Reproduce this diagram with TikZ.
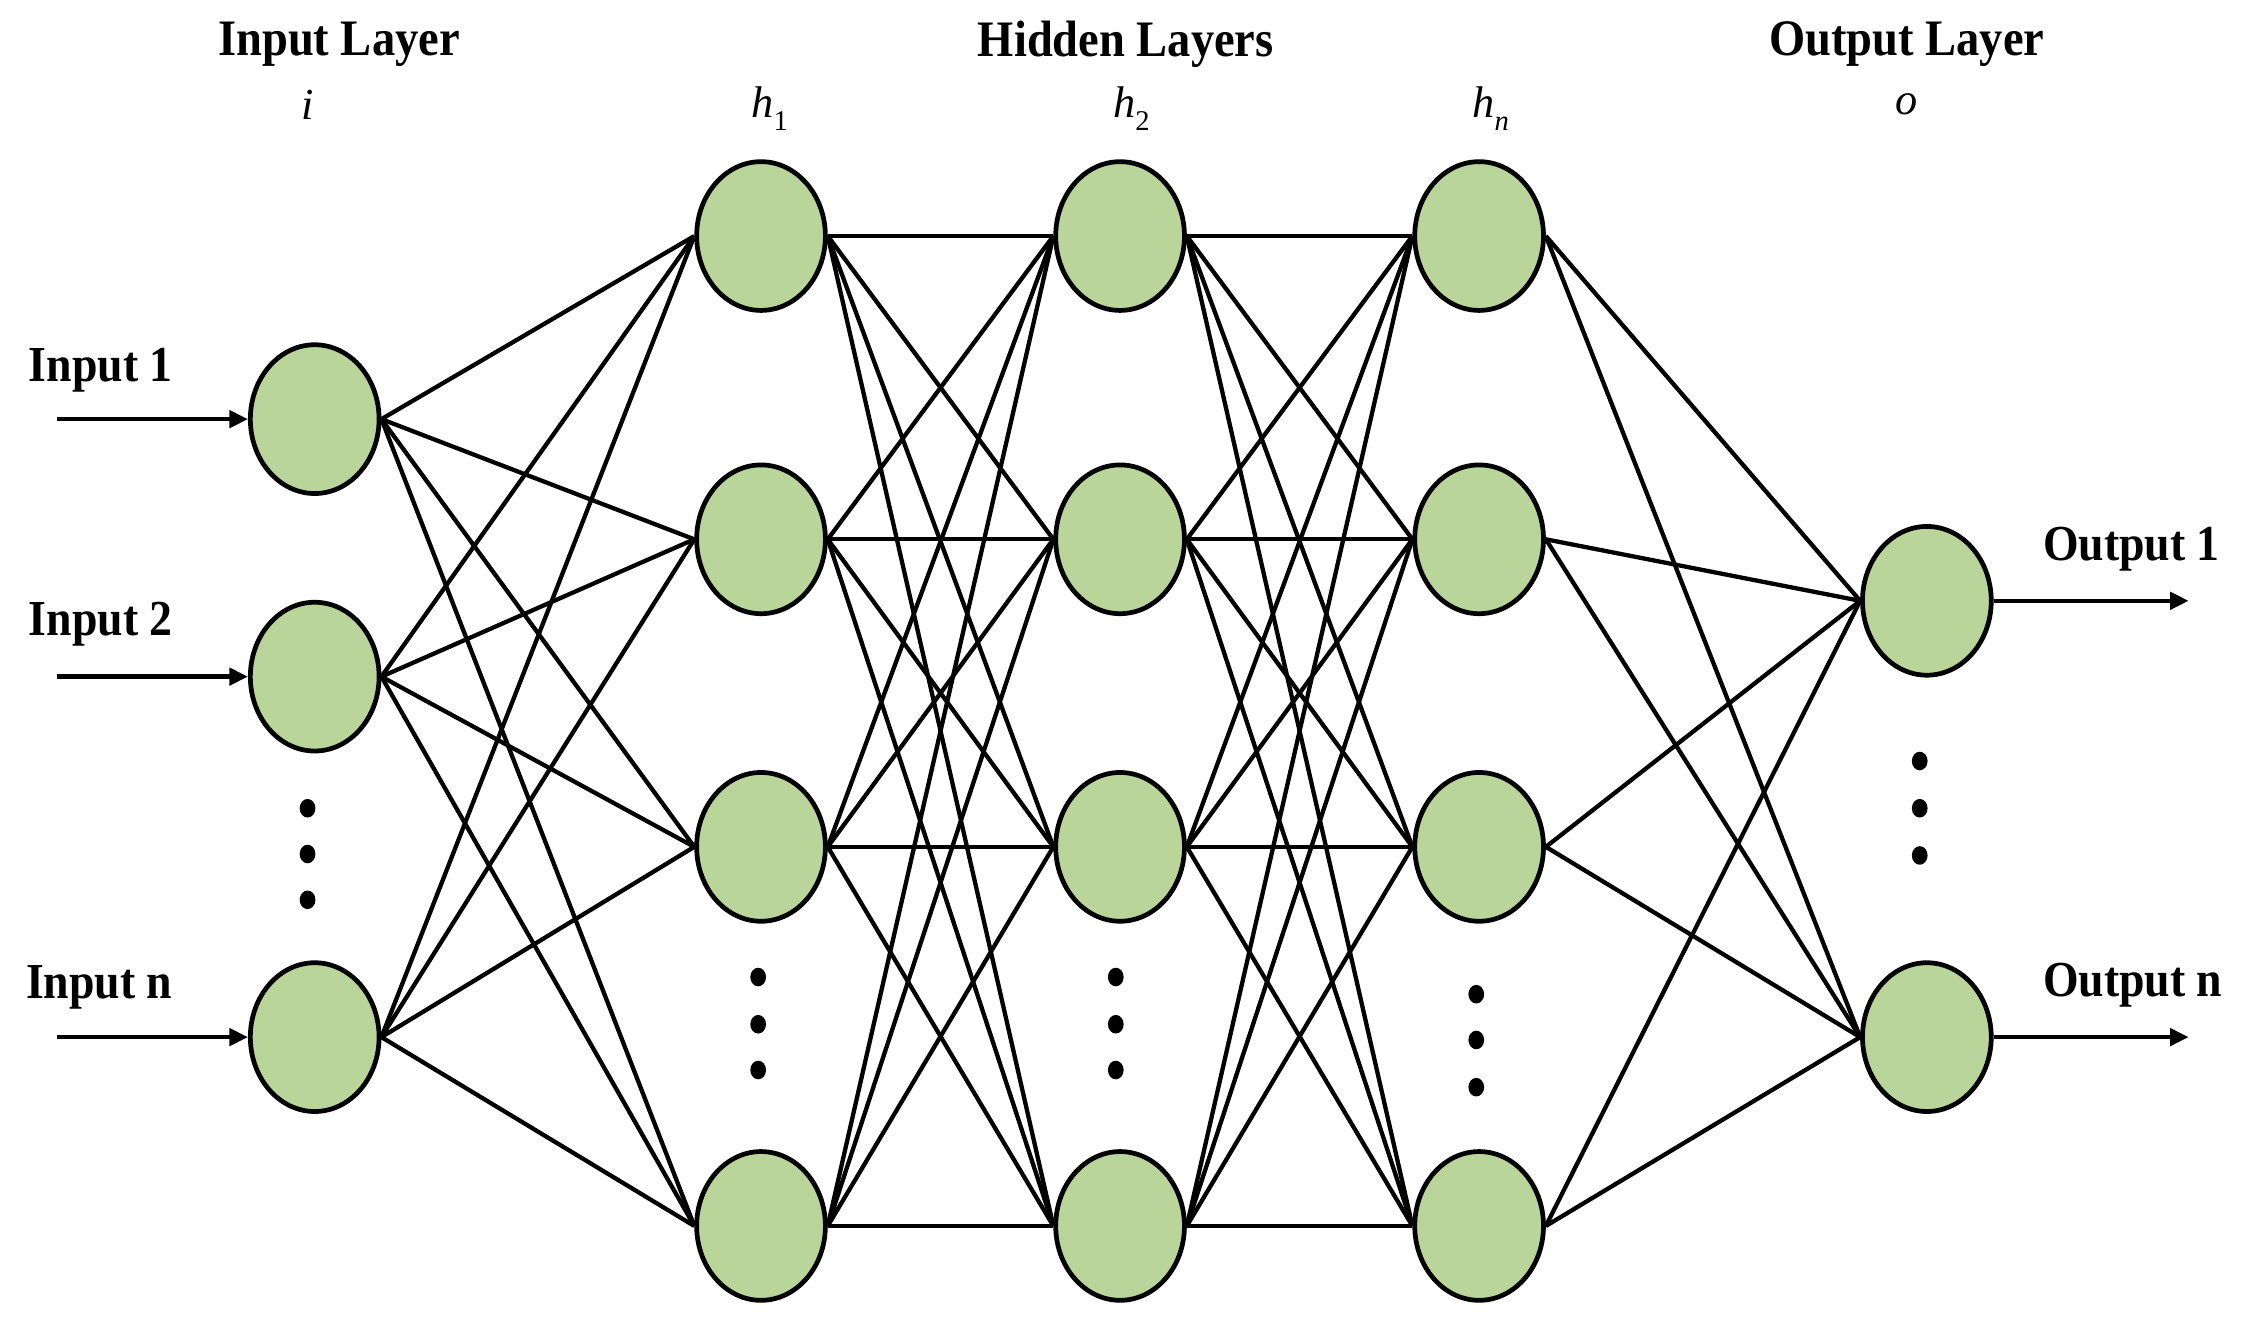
\documentclass[tikz,border=0pt]{standalone}
\usepackage{fontspec}
\setmainfont{Liberation Serif}
\usetikzlibrary{shapes.geometric,arrows.meta}
\definecolor{neuronfill}{HTML}{B9D59A}
\begin{document}
\begin{tikzpicture}[x=1pt,y=-1pt,
  neuron/.style={ellipse,draw=black,line width=3.3pt,fill=neuronfill,minimum width=90pt,minimum height=104pt,inner sep=0pt},
  link/.style={line width=3pt,black},
  ioarrow/.style={line width=3pt,-{Triangle[length=13pt,width=12pt]}},
  ttl/.style={font=\bfseries\fontsize{32.5}{36}\selectfont,inner sep=0pt},
  iolab/.style={font=\bfseries\fontsize{32}{36}\selectfont,inner sep=0pt,anchor=west},
  sym/.style={font=\itshape\fontsize{31}{34}\selectfont,inner sep=0pt}]
\useasboundingbox (0,0) rectangle (1568,922);

% titles
\node[ttl] (tin) at (237,31) {\scalebox{1}[1.1]{Input Layer}};
\node[ttl] (thid) at (787,31) {\scalebox{1}[1.1]{Hidden Layers}};
\node[ttl] (tout) at (1333,31) {\scalebox{1}[1.1]{Output Layer}};
\node[sym] (si) at (215,73) {i};
\node[sym] (sh1) at (538,76) {h\raisebox{-0.3em}{\upshape\fontsize{20}{20}\selectfont 1}};
\node[sym] (sh2) at (791,76) {h\raisebox{-0.3em}{\upshape\fontsize{20}{20}\selectfont 2}};
\node[sym] (shn) at (1042,76) {h\raisebox{-0.3em}{\fontsize{20}{20}\selectfont n}};
\node[sym] (so) at (1333,73) {o};

% input layer
\node[neuron] (in1) at (220,293) {};
\node[neuron] (in2) at (220,473) {};
\node[neuron] (inn) at (220,725) {};

% hidden layers
\foreach \L/\x in {a/532,b/783,c/1034}{
  \node[neuron] (\L1) at (\x,165) {};
  \node[neuron] (\L2) at (\x,377) {};
  \node[neuron] (\L3) at (\x,592) {};
  \node[neuron] (\L4) at (\x,857) {};
}

% output layer
\node[neuron] (o1) at (1347,420) {};
\node[neuron] (on) at (1347,725) {};

% connections
\foreach \s in {in1,in2,inn}{
  \foreach \t in {a1,a2,a3,a4}{ \draw[link] (\s.east) -- (\t.west); }
}
\foreach \i in {1,2,3,4}{
  \foreach \j in {1,2,3,4}{
    \draw[link] (a\i.east) -- (b\j.west);
    \draw[link] (b\i.east) -- (c\j.west);
  }
  \draw[link] (c\i.east) -- (o1.west);
  \draw[link] (c\i.east) -- (on.west);
}

% dots
\foreach \x/\y in {215/565,215/597,215/629,
                   530/683,530/716,530/748,
                   780/683,780/716,780/748,
                   1032/695,1032/727,1032/760,
                   1342/532,1342/565,1342/598}{
  \fill (\x,\y) ellipse [x radius=5.5pt,y radius=6.5pt];
}

% inputs and outputs
\coordinate (s1) at (40,293);
\coordinate (s2) at (40,473);
\coordinate (sn) at (40,725);
\coordinate (e1) at (1530,420);
\coordinate (en) at (1530,725);
\draw[ioarrow] (s1) -- (in1.west);
\draw[ioarrow] (s2) -- (in2.west);
\draw[ioarrow] (sn) -- (inn.west);
\draw[ioarrow] (o1.east) -- (e1);
\draw[ioarrow] (on.east) -- (en);

\node[iolab] (l1) at (20,259) {\scalebox{1}[1.1]{Input 1}};
\node[iolab] (l2) at (20,436) {\scalebox{1}[1.1]{Input 2}};
\node[iolab] (ln) at (18,690) {\scalebox{1}[1.1]{Input n}};
\node[iolab] (lo1) at (1428,384) {\scalebox{1}[1.1]{Output 1}};
\node[iolab] (lon) at (1428,689) {\scalebox{1}[1.1]{Output n}};
\end{tikzpicture}
\end{document}
